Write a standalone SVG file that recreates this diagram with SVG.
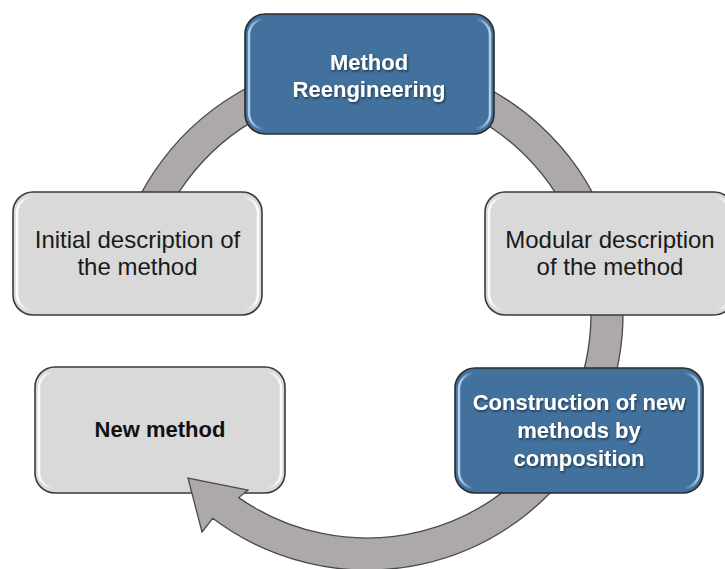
<svg xmlns="http://www.w3.org/2000/svg" width="725" height="569" viewBox="0 0 725 569">
  <defs>
    <linearGradient id="hlGrey" x1="0" y1="0" x2="1" y2="0">
      <stop offset="0" stop-color="#ffffff" stop-opacity="0.95"/>
      <stop offset="0.06" stop-color="#ffffff" stop-opacity="0"/>
      <stop offset="0.94" stop-color="#ffffff" stop-opacity="0"/>
      <stop offset="1" stop-color="#ffffff" stop-opacity="0.95"/>
    </linearGradient>
    <linearGradient id="hlBlue" x1="0" y1="0" x2="1" y2="0">
      <stop offset="0" stop-color="#b8d6f2" stop-opacity="0.95"/>
      <stop offset="0.06" stop-color="#b8d6f2" stop-opacity="0"/>
      <stop offset="0.94" stop-color="#b8d6f2" stop-opacity="0"/>
      <stop offset="1" stop-color="#b8d6f2" stop-opacity="0.95"/>
    </linearGradient>
    <filter id="txtShadow" x="-10%" y="-30%" width="120%" height="160%">
      <feDropShadow dx="1" dy="1.5" stdDeviation="1" flood-color="#000000" flood-opacity="0.55"/>
    </filter>
  </defs>
  <style>
    .grey { fill: #d9d9d9; stroke: #3a3a3a; stroke-width: 1.6; }
    .blue { fill: #41719c; stroke: #2b2b2b; stroke-width: 1.6; }
    .hlg { fill: none; stroke: url(#hlGrey); stroke-width: 2.5; }
    .hlb { fill: none; stroke: url(#hlBlue); stroke-width: 2.5; }
    .t { font-family: "Liberation Sans", Arial, sans-serif; font-size: 24px; fill: #1a1a1a; text-anchor: middle; }
    .tb { font-family: "Liberation Sans", Arial, sans-serif; font-size: 22px; font-weight: bold; fill: #111111; text-anchor: middle; }
    .tw { font-family: "Liberation Sans", Arial, sans-serif; font-size: 22px; font-weight: bold; fill: #ffffff; text-anchor: middle; filter: url(#txtShadow); }
    .ring { fill: #ada9a9; stroke: #4a4a4a; stroke-width: 1.3; stroke-linejoin: miter; }
  </style>

  <rect width="725" height="569" fill="#ffffff"/>

  <g id="node-new-method">
    <rect class="grey" x="35" y="367" width="250" height="126" rx="20" ry="20"/>
    <rect class="hlg" x="39" y="372" width="242" height="116" rx="16" ry="16"/>
    <text class="tb" x="160" y="437">New method</text>
  </g>

  <g id="connectors">
    <path class="ring" d="M 114.9 269.6 A 256 256 0 1 1 212.7 518.3 L 202 532 L 188 478 L 248 490 L 238.7 497.6 A 224 224 0 1 0 146.4 275.1 Z"/>
  </g>

  <g id="node-method-reengineering">
    <rect class="blue" x="245" y="14" width="249" height="120" rx="20" ry="20"/>
    <rect class="hlb" x="249" y="19" width="241" height="110" rx="16" ry="16"/>
    <text class="tw" x="369" y="70">Method</text>
    <text class="tw" x="369" y="97">Reengineering</text>
  </g>

  <g id="node-initial-description">
    <rect class="grey" x="13" y="192" width="249" height="123" rx="20" ry="20"/>
    <rect class="hlg" x="17" y="197" width="241" height="113" rx="16" ry="16"/>
    <text class="t" x="137.5" y="248">Initial description of</text>
    <text class="t" x="137.5" y="275">the method</text>
  </g>

  <g id="node-modular-description">
    <rect class="grey" x="485" y="192" width="249" height="123" rx="20" ry="20"/>
    <rect class="hlg" x="489" y="197" width="241" height="113" rx="16" ry="16"/>
    <text class="t" x="610" y="248">Modular description</text>
    <text class="t" x="610" y="275">of the method</text>
  </g>

  <g id="node-construction">
    <rect class="blue" x="455" y="368" width="248" height="125" rx="20" ry="20"/>
    <rect class="hlb" x="459" y="373" width="240" height="115" rx="16" ry="16"/>
    <text class="tw" x="579" y="410">Construction of new</text>
    <text class="tw" x="579" y="438">methods by</text>
    <text class="tw" x="579" y="466">composition</text>
  </g>
</svg>
